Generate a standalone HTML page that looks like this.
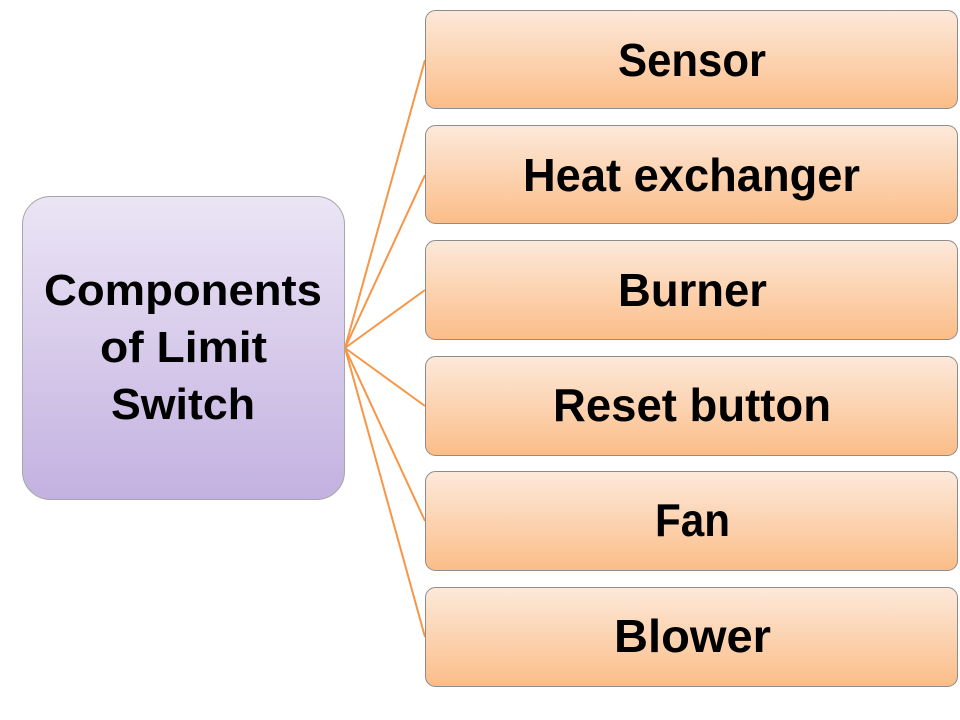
<!DOCTYPE html>
<html><head><meta charset="utf-8"><style>
html,body{margin:0;padding:0;background:#fff;width:960px;height:720px;overflow:hidden}
</style></head><body>
<svg width="960" height="720" viewBox="0 0 960 720" xmlns="http://www.w3.org/2000/svg">
<defs>
<linearGradient id="o" x1="0" y1="0" x2="0" y2="1"><stop offset="0" stop-color="#fde9da"/><stop offset="1" stop-color="#fbbd88"/></linearGradient>
<linearGradient id="p" x1="0" y1="0" x2="0" y2="1"><stop offset="0" stop-color="#ebe5f5"/><stop offset="1" stop-color="#c3b1e0"/></linearGradient>
</defs>
<g stroke="#f79646" stroke-width="2" fill="none">
<line x1="345" y1="348" x2="425" y2="60"/>
<line x1="345" y1="348" x2="425" y2="175"/>
<line x1="345" y1="348" x2="425" y2="290"/>
<line x1="345" y1="348" x2="425" y2="406"/>
<line x1="345" y1="348" x2="425" y2="521"/>
<line x1="345" y1="348" x2="425" y2="637"/>
</g>
<rect x="22.5" y="196.5" width="322" height="303" rx="28" fill="url(#p)" stroke="#a6a6a6"/>
<g fill="url(#o)" stroke="#8c8c8c">
<rect x="425.5" y="10.5" width="532" height="98" rx="10"/>
<rect x="425.5" y="125.5" width="532" height="98" rx="10"/>
<rect x="425.5" y="240.5" width="532" height="99" rx="10"/>
<rect x="425.5" y="356.5" width="532" height="99" rx="10"/>
<rect x="425.5" y="471.5" width="532" height="99" rx="10"/>
<rect x="425.5" y="587.5" width="532" height="99" rx="10"/>
</g>
<g font-family="Liberation Sans, sans-serif" font-weight="bold" fill="#000">
<text x="44" y="305" font-size="44" textLength="278" lengthAdjust="spacingAndGlyphs">Components</text>
<text x="100" y="362" font-size="44" textLength="167" lengthAdjust="spacingAndGlyphs">of Limit</text>
<text x="111" y="419" font-size="44" textLength="144" lengthAdjust="spacingAndGlyphs">Switch</text>
<g font-size="46">
<text x="618" y="76" textLength="148" lengthAdjust="spacingAndGlyphs">Sensor</text>
<text x="523" y="191" textLength="337" lengthAdjust="spacingAndGlyphs">Heat exchanger</text>
<text x="618" y="306" textLength="149" lengthAdjust="spacingAndGlyphs">Burner</text>
<text x="553" y="421" textLength="278" lengthAdjust="spacingAndGlyphs">Reset button</text>
<text x="655" y="536" textLength="75" lengthAdjust="spacingAndGlyphs">Fan</text>
<text x="614" y="652" textLength="157" lengthAdjust="spacingAndGlyphs">Blower</text>
</g>
</g>
</svg>
</body></html>
